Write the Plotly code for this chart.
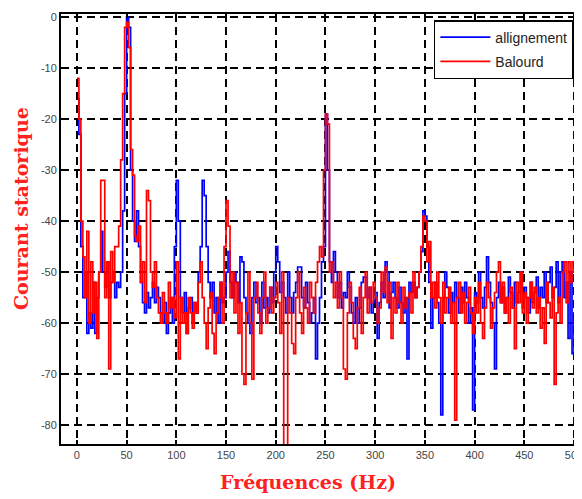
import numpy as np
import plotly.graph_objects as go

# Frequency axis (Hz), 2 Hz resolution
freq_step = 2
freqs = np.arange(0, 504, freq_step)

alignement = [
    -16, -23, -45, -55, -50, -62, -58, -61, -52, -62,
    -55, -50, -42, -50, -53, -48, -55, -52, -50, -55,
    -52, -53, -50, -38, -15, 0, -2, -30, -40, -44,
    -38, -45, -52, -56, -58, -54, -57, -55, -52, -56,
    -53, -55, -58, -60, -56, -62, -58, -55, -60, -45,
    -32, -40, -55, -58, -54, -62, -57, -55, -60, -56,
    -58, -50, -45, -32, -35, -45, -52, -55, -52, -58,
    -55, -60, -52, -56, -55, -50, -46, -52, -55, -50,
    -52, -56, -47, -48, -55, -58, -60, -62, -55, -52,
    -56, -55, -60, -52, -57, -55, -58, -53, -56, -50,
    -45, -48, -54, -52, -55, -58, -50, -55, -58, -54,
    -52, -49, -49, -55, -57, -52, -56, -60, -58, -55,
    -67, -60, -55, -48, -45, -19, -30, -48, -52, -46,
    -50, -55, -52, -57, -54, -55, -50, -53, -58, -60,
    -55, -60, -57, -52, -51, -51, -55, -53, -58, -56,
    -54, -63, -56, -52, -55, -48, -50, -57, -54, -52,
    -55, -57, -53, -56, -58, -55, -67, -52, -54, -52,
    -55, -53, -50, -46, -38, -39, -45, -52, -61, -55,
    -52, -56, -60, -78, -55, -50, -53, -58, -54, -56,
    -52, -55, -58, -53, -56, -52, -55, -60, -57, -77,
    -54, -56, -50, -55, -57, -53, -47, -52, -56, -60,
    -69, -55, -52, -56, -53, -58, -55, -51, -54, -57,
    -52, -56, -54, -50, -57, -53, -55, -58, -52, -56,
    -54, -51, -57, -53, -55, -50, -56, -52, -49, -55,
    -53, -48, -56, -50, -48, -55, -52, -63, -50, -66,
    -58, -52,
]

balourd = [
    -12, -20, -40, -47, -55, -42, -60, -48, -58, -52,
    -63, -50, -32, -32, -55, -48, -69, -46, -52, -45,
    -45, -41, -28, -15, -2, -1, -6, -26, -31, -43,
    -44, -41, -52, -48, -56, -34, -36, -50, -53, -48,
    -55, -58, -60, -54, -58, -60, -52, -57, -55, -59,
    -48, -67, -55, -60, -58, -62, -55, -58, -61, -56,
    -58, -52, -48, -55, -60, -65, -57, -54, -62, -66,
    -58, -55, -52, -60, -45, -36, -41, -55, -50, -58,
    -52, -62, -56, -70, -72, -58, -50, -60, -71, -55,
    -52, -58, -62, -55, -50, -60, -57, -53, -58, -55,
    -52, -56, -62, -50, -84, -84, -55, -58, -64, -66,
    -55, -50, -58, -62, -53, -57, -60, -52, -55, -58,
    -52, -48, -45, -47, -30, -19, -21, -50, -48, -55,
    -52, -57, -50, -55, -69, -71, -58, -52, -56, -63,
    -65, -57, -53, -62, -55, -50, -58, -53, -56, -52,
    -55, -60, -57, -50, -54, -49, -56, -52, -63, -55,
    -58, -52, -56, -60, -53, -57, -55, -54, -58, -50,
    -55, -53, -50, -45, -39, -40, -48, -44, -55, -52,
    -57, -50, -55, -60, -52, -58, -55, -53, -60, -56,
    -79, -55, -52, -58, -54, -60, -56, -53, -58, -62,
    -55, -58, -52, -60, -63, -57, -52, -55, -61, -57,
    -54, -50, -48, -56, -52, -58, -55, -60, -53, -57,
    -65, -52, -56, -50, -58, -54, -60, -55, -52, -57,
    -53, -58, -55, -61, -57, -64, -52, -56, -59, -53,
    -72, -58, -55, -60, -50, -48, -56, -48, -52, -48,
    -50, -55,
]

series_names = ["allignement", "Balourd"]
series_colors = ["#0000ff", "#ff0000"]

x_tickvals = [0, 50, 100, 150, 200, 250, 300, 350, 400, 450, 500]
x_ticktext = ["0", "50", "100", "150", "200", "250", "300", "350", "400", "450", "500"]
y_tickvals = [0, -10, -20, -30, -40, -50, -60, -70, -80]
y_ticktext = ["0", "-10", "-20", "-30", "-40", "-50", "-60", "-70", "-80"]

fig = go.Figure()
for vals, name, col in zip([alignement, balourd], series_names, series_colors):
    fig.add_trace(go.Scatter(
        x=freqs, y=vals, mode="lines", name=name, legendgroup=name,
        line=dict(color=col, width=1.7, shape="hv"),
    ))

axis_common = dict(
    showline=True, linecolor="black", linewidth=2, mirror="ticks",
    showgrid=True, gridcolor="black", gridwidth=1.5, griddash="8px,5px",
    zeroline=False, ticks="inside", ticklen=4, tickcolor="black", tickwidth=1.5,
    tickfont=dict(family="Liberation Sans, Arial", size=11, color="#444"),
    automargin=False, ticklabeloverflow="allow",
)

# page body has an 8px default margin; figure is sized to compensate
fig.update_layout(
    width=574, height=491,
    margin=dict(l=53, r=4, t=6, b=55, autoexpand=False),
    paper_bgcolor="white", plot_bgcolor="white",
    xaxis=dict(range=[-16, 504], tickvals=x_tickvals, ticktext=x_ticktext, **axis_common),
    yaxis=dict(range=[-83.7, 0.6], tickvals=y_tickvals, ticktext=y_ticktext, **axis_common),
    legend=dict(
        x=0.992, xanchor="right", y=0.986, yanchor="top",
        bgcolor="white", bordercolor="black", borderwidth=1.5,
        font=dict(family="Liberation Sans, Arial", size=14, color="#222"),
        tracegroupgap=3, itemwidth=50,
    ),
    annotations=[
        dict(text="<b>Courant statorique</b>", xref="paper", yref="paper",
             x=(21 - 61) / 517, y=(444 - 209) / 430, xanchor="center", yanchor="middle",
             textangle=-90, showarrow=False,
             font=dict(family="DejaVu Serif", size=19, color="#ff2020")),
        dict(text="<b>Fréquences (Hz)</b>", xref="paper", yref="paper",
             x=(308 - 61) / 517, y=(444 - 482) / 430, xanchor="center", yanchor="middle",
             showarrow=False,
             font=dict(family="DejaVu Serif", size=19, color="#ff2020")),
    ],
)

fig.write_html("out.html")
